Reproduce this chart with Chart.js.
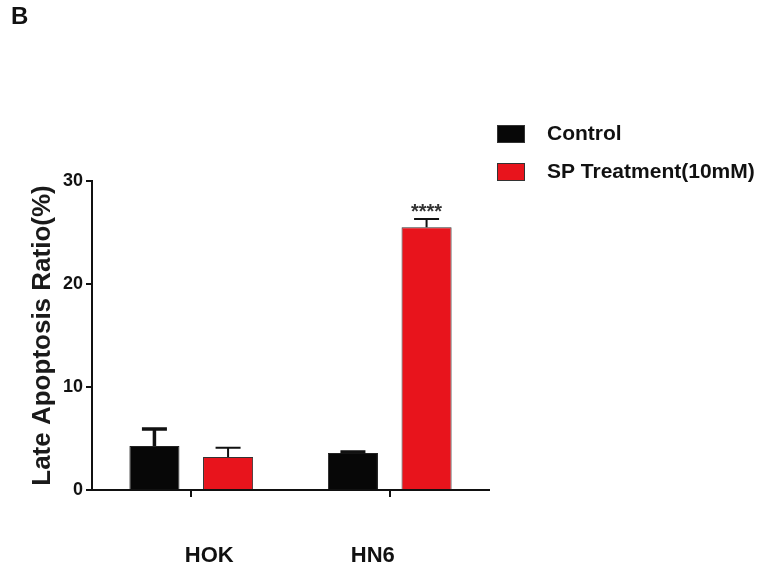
<!DOCTYPE html>
<html>
<head>
<meta charset="utf-8">
<script src="https://cdn.jsdelivr.net/npm/chart.js@4/dist/chart.umd.min.js"></script>
<style>
  body { margin: 0; background: #fff; }
</style>
</head>
<body>
<canvas id="apoptosisChart" width="763" height="571"></canvas>
<script>
// data
const categories = ['HOK', 'HN6'];
const controlValues = [4.28, 3.6];
const controlErrors = [1.65, 0.1];
const spValues = [3.21, 25.5];
const spErrors = [0.88, 0.8];
const significance = ['', '****'];
const yTicks = [0, 10, 20, 30];

const FONT = "'Liberation Sans', Arial, sans-serif";
const INK = '#111';

// error bars, stars, category labels, legend and panel letter
const extrasPlugin = {
  id: 'extras',
  afterDatasetsDraw(chart) {
    const ctx = chart.ctx;
    const yScale = chart.scales.y;
    const xScale = chart.scales.x;
    const errors = [controlErrors, spErrors];
    const widths = [3.5, 2];

    ctx.save();
    chart.data.datasets.forEach((ds, di) => {
      const meta = chart.getDatasetMeta(di);
      meta.data.forEach((bar, i) => {
        const top = yScale.getPixelForValue(ds.data[i] + errors[di][i]);
        ctx.strokeStyle = INK;
        ctx.lineWidth = widths[di];
        ctx.beginPath();
        ctx.moveTo(bar.x, bar.y);
        ctx.lineTo(bar.x, top);
        ctx.moveTo(bar.x - 12.5, top);
        ctx.lineTo(bar.x + 12.5, top);
        ctx.stroke();

        if (di === 1 && significance[i]) {
          ctx.fillStyle = '#333';
          ctx.font = 'bold 20px ' + FONT;
          ctx.textAlign = 'center';
          ctx.textBaseline = 'alphabetic';
          ctx.fillText(significance[i], bar.x, top - 1);
        }
      });
    });

    // category labels (sit a little off the tick marks in the original)
    const labelShift = [18, -17];
    ctx.fillStyle = INK;
    ctx.font = 'bold 22px ' + FONT;
    ctx.textAlign = 'center';
    ctx.textBaseline = 'middle';
    categories.forEach((c, i) => {
      ctx.fillText(c, xScale.getPixelForTick(i) + labelShift[i], 556);
    });

    // legend
    ctx.font = 'bold 21px ' + FONT;
    ctx.textAlign = 'left';
    chart.data.datasets.forEach((ds, di) => {
      const y = 125 + di * 38;
      ctx.fillStyle = ds.backgroundColor;
      ctx.fillRect(497, y, 28, 18);
      ctx.strokeStyle = '#333';
      ctx.lineWidth = 1;
      ctx.strokeRect(497.5, y + 0.5, 27, 17);
      ctx.fillStyle = INK;
      ctx.fillText(ds.label, 547, y + 9);
    });

    // panel letter
    ctx.font = 'bold 24px ' + FONT;
    ctx.textBaseline = 'top';
    ctx.fillText('B', 11, 5);
    ctx.restore();
  }
};

const config = {
  type: 'bar',
  data: {
    labels: categories,
    datasets: [
      {
        label: 'Control',
        data: controlValues,
        backgroundColor: '#070707',
        borderColor: '#222',
        borderWidth: 1
      },
      {
        label: 'SP Treatment(10mM)',
        data: spValues,
        backgroundColor: '#e8141c',
        borderColor: '#333',
        borderWidth: 1
      }
    ]
  },
  options: {
    responsive: false,
    animation: false,
    layout: { padding: { left: 0, top: 181, right: 274, bottom: 0 } },
    datasets: {
      bar: { categoryPercentage: 0.742, barPercentage: 0.68 }
    },
    plugins: {
      legend: { display: false },
      tooltip: { enabled: false }
    },
    scales: {
      x: {
        afterFit(scale) { scale.height = 81; },
        grid: {
          offset: false,
          drawOnChartArea: false,
          tickLength: 7,
          color: INK,
          lineWidth: 2
        },
        border: { color: INK, width: 2 },
        ticks: { display: false }
      },
      y: {
        min: 0,
        max: 30,
        afterFit(scale) { scale.width = 92; },
        afterBuildTicks(scale) {
          scale.ticks = yTicks.map(v => ({ value: v }));
        },
        grid: {
          drawOnChartArea: false,
          tickLength: 6,
          color: INK,
          lineWidth: 2
        },
        border: { color: INK, width: 2 },
        ticks: {
          padding: 3,
          color: INK,
          font: { family: FONT, size: 18, weight: 'bold' }
        },
        title: {
          display: true,
          text: 'Late Apoptosis Ratio(%)',
          color: '#1a1a1a',
          padding: { top: 27, bottom: 0 },
          font: { family: FONT, size: 26, weight: 'bold' }
        }
      }
    }
  },
  plugins: [extrasPlugin]
};

const apoptosisChart = new Chart(document.getElementById('apoptosisChart'), config);
</script>
</body>
</html>
